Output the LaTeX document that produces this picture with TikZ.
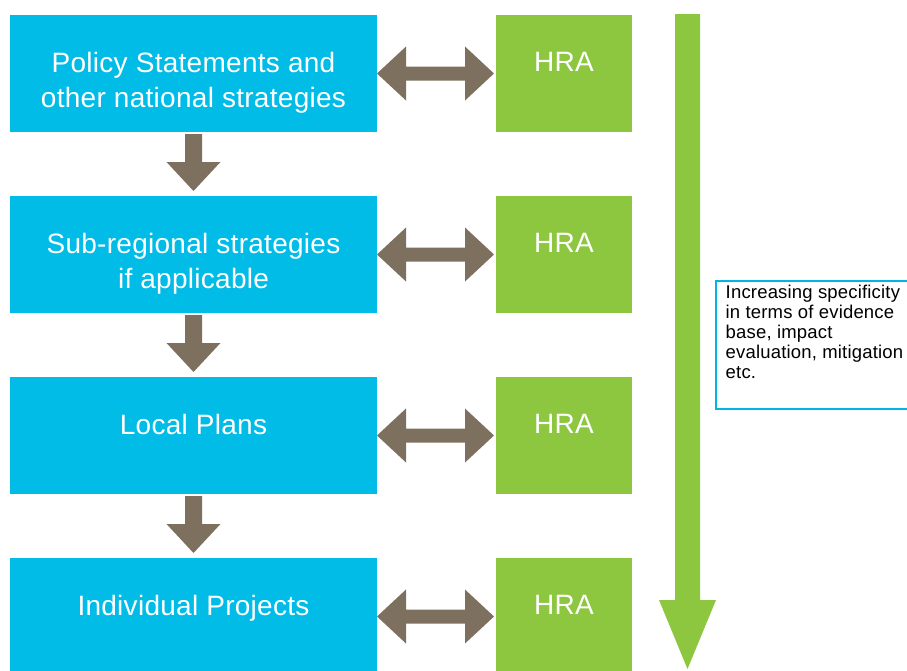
\documentclass[tikz,border=0pt]{standalone}
\usepackage{fontspec}
\setmainfont{Liberation Sans}
\newfontfamily\hrafont[LetterSpace=1]{Liberation Sans}
\usetikzlibrary{calc}
\definecolor{hblue}{RGB}{0,188,231}
\definecolor{hgreen}{RGB}{141,198,63}
\definecolor{hbrown}{RGB}{126,112,94}
\definecolor{hframe}{RGB}{0,180,228}
\newcommand{\hradblarrow}[2]{%
  \fill[hbrown] (#1.east) -- ++(29,-27) -- ++(0,20) -- ($(#2.west)+(-31,-7)$) -- ++(0,-20)
    -- ($(#2.west)+(-2,0)$) -- ++(-29,27) -- ++(0,-20) -- ($(#1.east)+(29,7)$) -- ++(0,20) -- cycle;}
\newcommand{\hradownarrow}[2]{%
  \fill[hbrown] ($(#1.south)+(-8.5,2)$) -- ++(0,28) -- ++(-18.5,0) -- ($(#2.north)+(0,-5)$)
    -- ++(27,-29) -- ++(-18.5,0) -- ($(#1.south)+(8.5,2)$) -- cycle;}
\begin{document}
\begin{tikzpicture}[x=1pt,y=-1pt,
  bluebox/.style={fill=hblue,draw=none,inner sep=0pt,outer sep=0pt,minimum width=367pt,minimum height=117pt,anchor=north west},
  hrabox/.style={fill=hgreen,draw=none,inner sep=0pt,outer sep=0pt,minimum width=136pt,minimum height=117pt,anchor=north west},
  bigtext/.style={text=white,font={\hrafont\fontsize{28}{35}\selectfont},align=center,inner sep=0pt},
  notebox/.style={draw=hframe,line width=2pt,inner sep=0pt,outer sep=0pt,minimum width=200pt,minimum height=128pt,anchor=north west},
  notetext/.style={text=black,font={\hrafont\fontsize{18.5}{20}\selectfont},align=left,inner sep=0pt,anchor=north west}]
\useasboundingbox (0,0) rectangle (907,670);
\clip (0,0) rectangle (907,670);

% left column
\node[bluebox] (b1) at (10,15) {};
\node[bluebox] (b2) at (10,196) {};
\node[bluebox] (b3) at (10,377) {};
\node[bluebox] (b4) at (10,558) {};
\node[bigtext] (t1) at ([yshift=-67.5pt]b1.north) {Policy Statements and\\other national strategies};
\node[bigtext] (t2) at ([yshift=-67.5pt]b2.north) {Sub-regional strategies\\if applicable};
\node[bigtext,anchor=base] (t3) at ([yshift=-57pt]b3.north) {Local Plans};
\node[bigtext,anchor=base] (t4) at ([yshift=-57pt]b4.north) {Individual Projects};

% HRA column
\node[hrabox] (h1) at (496,15) {};
\node[hrabox] (h2) at (496,196) {};
\node[hrabox] (h3) at (496,377) {};
\node[hrabox] (h4) at (496,558) {};
\foreach \i in {1,2,3,4}{
  \node[bigtext,anchor=base] (ht\i) at ([yshift=-56pt]h\i.north) {HRA};
}

% connectors
\hradblarrow{b1}{h1}
\hradblarrow{b2}{h2}
\hradblarrow{b3}{h3}
\hradblarrow{b4}{h4}
\hradownarrow{b1}{b2}
\hradownarrow{b2}{b3}
\hradownarrow{b3}{b4}

% big green arrow
\coordinate (gtop) at (687.5,14);
\coordinate (gtip) at (687.5,669);
\fill[hgreen] ($(gtop)+(-12.5,0)$) -- ($(gtip)+(-12.5,-69)$) -- ++(-16,0) -- (gtip)
  -- ($(gtip)+(28.5,-69)$) -- ++(-16,0) -- ($(gtop)+(12.5,0)$) -- cycle;

% note
\node[notebox] (note) at (716,281) {};
\node[notetext] (nt) at ([xshift=9.5pt,yshift=-3.5pt]note.north west)
  {Increasing specificity\\in terms of evidence\\base, impact\\evaluation, mitigation\\etc.};
\end{tikzpicture}
\end{document}
